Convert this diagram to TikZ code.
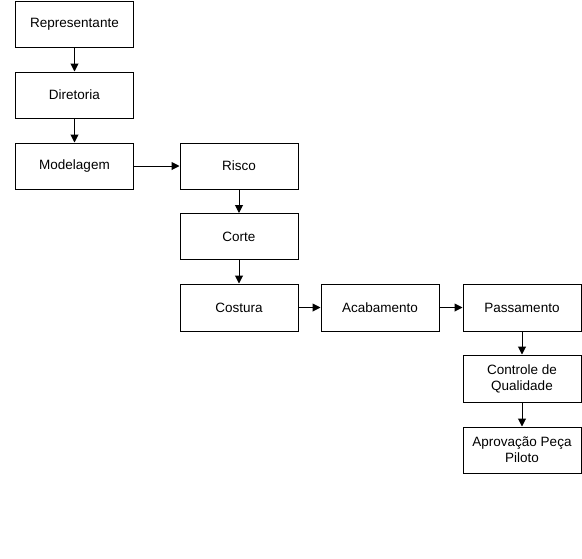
\documentclass[tikz,border=0pt]{standalone}
\usepackage{fontspec}
\setmainfont{Liberation Sans}
\usetikzlibrary{arrows.meta}
\begin{document}
\begin{tikzpicture}[x=1pt,y=-1pt,
  box/.style={draw,line width=1pt,minimum width=118pt,minimum height=46pt,inner sep=0pt,align=center,font=\fontsize{13.5}{16}\selectfont},
  arr/.style={line width=1pt,-{Triangle[length=8pt,width=8pt]}}]
\useasboundingbox (0,0) rectangle (582,558);
\node[box] (rep) at (74.5,24.5) {Representante};
\node[box] (dir) at (74.5,95) {Diretoria};
\node[box] (mod) at (74.5,166) {Modelagem};
\node[box] (ris) at (239,166) {Risco};
\node[box] (cor) at (239,236.5) {Corte};
\node[box,minimum height=47pt] (cos) at (239,307.5) {Costura};
\node[box,minimum height=47pt] (aca) at (380,307.5) {Acabamento};
\node[box,minimum height=47pt] (pas) at (522,307.5) {Passamento};
\node[box,minimum height=47pt] (cq) at (522,378.5) {Controle de\\Qualidade};
\node[box,minimum height=46pt] (ap) at (522,450) {Aprovação Peça\\Piloto};
\draw[arr] (rep) -- (dir);
\draw[arr] (dir) -- (mod);
\draw[arr] (mod) -- (ris);
\draw[arr] (ris) -- (cor);
\draw[arr] (cor) -- (cos);
\draw[arr] (cos) -- (aca);
\draw[arr] (aca) -- (pas);
\draw[arr] (pas) -- (cq);
\draw[arr] (cq) -- (ap);
\end{tikzpicture}
\end{document}
